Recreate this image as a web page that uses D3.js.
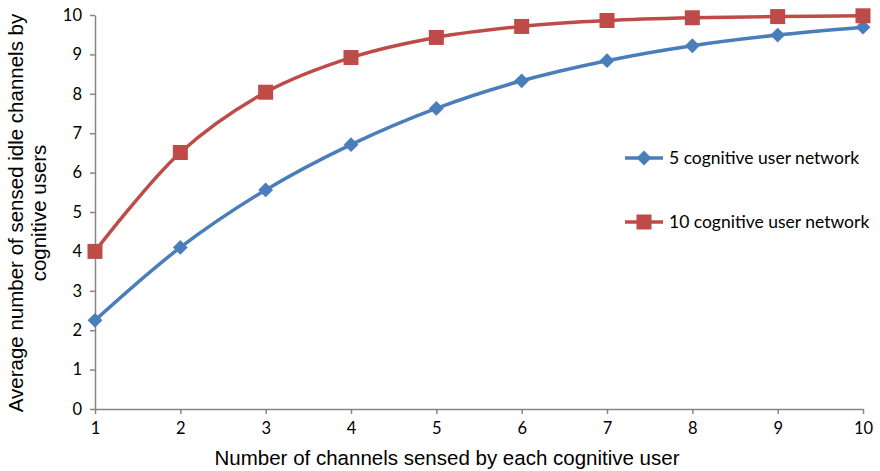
<!DOCTYPE html>
<html><head><meta charset="utf-8">
<script src="https://cdn.jsdelivr.net/npm/d3@7"></script>
<style>body{margin:0;background:#fff}svg{display:block}</style>
</head><body>
<svg id="c" width="880" height="471"></svg>
<script>
const channels = [1,2,3,4,5,6,7,8,9,10];
const net5 = [2.25,4.1,5.56,6.71,7.63,8.33,8.84,9.22,9.49,9.69];
const net10 = [4.0,6.51,8.04,8.92,9.43,9.71,9.86,9.93,9.96,9.98];
const yTicks = [0,1,2,3,4,5,6,7,8,9,10];
const seriesNames = ["5 cognitive user network","10 cognitive user network"];

const svg = d3.select("#c");
const x = d3.scaleLinear().domain([1,10]).range([95,863]);
const y = d3.scaleLinear().domain([0,10]).range([409,15]);
const axisCol = "#868686";
const tickFont = "Lato, 'Open Sans', sans-serif";

const gx = svg.append("g").attr("transform",`translate(0,${y(0)})`)
  .call(d3.axisBottom(x).tickValues(channels).tickSize(5).tickSizeOuter(0).tickPadding(8));
const gy = svg.append("g").attr("transform",`translate(${x(1)},0)`)
  .call(d3.axisLeft(y).tickValues(yTicks).tickSize(5).tickSizeOuter(0).tickPadding(8));
[gx,gy].forEach(g=>{
  g.select(".domain").attr("stroke",axisCol).attr("stroke-width",1.5);
  g.selectAll(".tick line").attr("stroke",axisCol).attr("stroke-width",1.5);
  g.selectAll(".tick text").attr("fill","#000").style("font-family",tickFont).style("font-size","16.5px");
});

const blue = "#4a7ebb", red = "#be4b48";
const line = d3.line().x((d,i)=>x(channels[i])).y(d=>y(d)).curve(d3.curveCatmullRom.alpha(0.5));

svg.append("path").datum(net5).attr("d",line).attr("fill","none").attr("stroke",blue).attr("stroke-width",3.5);
svg.append("path").datum(net10).attr("d",line).attr("fill","none").attr("stroke",red).attr("stroke-width",3.5);

const diamond = d3.symbol().type(d3.symbolDiamond2).size(140);
svg.append("g").selectAll("path").data(net5).join("path")
  .attr("d",diamond).attr("transform",(d,i)=>`translate(${x(channels[i])},${y(d)})`).attr("fill",blue);
svg.append("g").selectAll("rect").data(net10).join("rect")
  .attr("x",(d,i)=>x(channels[i])-7.5).attr("y",d=>y(d)-7.5).attr("width",15).attr("height",15).attr("fill",red);

// legend
const lg = svg.append("g");
[[blue,158,"d"],[red,222,"s"]].forEach(([c,ly,m],i)=>{
  lg.append("line").attr("x1",625).attr("x2",663).attr("y1",ly).attr("y2",ly).attr("stroke",c).attr("stroke-width",3.5);
  if(m==="d") lg.append("path").attr("d",diamond).attr("transform",`translate(644,${ly})`).attr("fill",c);
  else lg.append("rect").attr("x",636.5).attr("y",ly-7.5).attr("width",15).attr("height",15).attr("fill",c);
  lg.append("text").attr("x",669).attr("y",ly+6).text(seriesNames[i])
    .style("font-family",tickFont).style("font-size","17.5px").attr("fill","#000");
});

// axis titles
svg.append("text").attr("x",447).attr("y",465).attr("text-anchor","middle")
  .style("font-family","'Liberation Sans', Arial, sans-serif").style("font-size","20.5px")
  .text("Number of channels sensed by each cognitive user");
const yt = svg.append("text").attr("transform","translate(0,213) rotate(-90)").attr("text-anchor","middle")
  .style("font-family","'Liberation Sans', Arial, sans-serif").style("font-size","20.5px");
yt.append("tspan").attr("x",0).attr("y",23).text("Average number of sensed idle channels by");
yt.append("tspan").attr("x",0).attr("y",46).text("cognitive users");
</script>
</body></html>
